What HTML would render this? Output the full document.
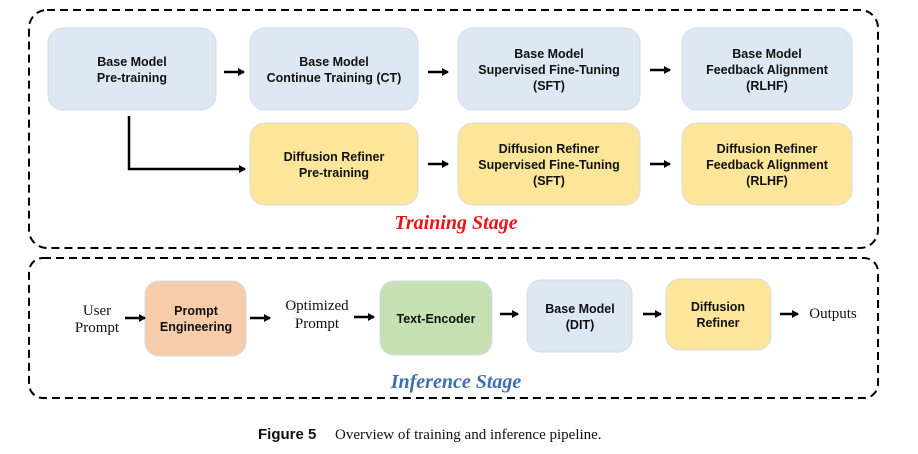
<!DOCTYPE html>
<html><head><meta charset="utf-8"><style>
html,body{margin:0;padding:0;background:#fff;}
svg{display:block;}
.s{font-family:"Liberation Sans",sans-serif;font-weight:bold;font-size:12.5px;fill:#111;text-anchor:middle;}
.r{font-family:"Liberation Serif",serif;font-size:15px;fill:#111;text-anchor:middle;}
</style></head><body>
<svg width="918" height="454" viewBox="0 0 918 454" xmlns="http://www.w3.org/2000/svg">
<defs><marker id="a" markerWidth="8" markerHeight="8" refX="6" refY="4" orient="auto" markerUnits="userSpaceOnUse"><path d="M0,0 L7,4 L0,8 z" fill="#000"/></marker></defs>
<rect x="29" y="10" width="849" height="238" rx="18" fill="none" stroke="#000" stroke-width="2" stroke-dasharray="8,5"/>
<rect x="29" y="258" width="849" height="140" rx="14" fill="none" stroke="#000" stroke-width="2" stroke-dasharray="8,5"/>
<g stroke="#d6dde6" stroke-width="1">
<rect x="48" y="28" width="168" height="82" rx="15" fill="#dde8f4"/>
<rect x="250" y="28" width="168" height="82" rx="15" fill="#dde8f4"/>
<rect x="458" y="28" width="182" height="82" rx="15" fill="#dde8f4"/>
<rect x="682" y="28" width="170" height="82" rx="15" fill="#dde8f4"/>
<rect x="250" y="123" width="168" height="82" rx="15" fill="#fde69a"/>
<rect x="458" y="123" width="182" height="82" rx="15" fill="#fde69a"/>
<rect x="682" y="123" width="170" height="82" rx="15" fill="#fde69a"/>
<rect x="145" y="281" width="101" height="75" rx="14" fill="#f7ccaa"/>
<rect x="380" y="281" width="112" height="74" rx="14" fill="#c6e0b4"/>
<rect x="527" y="280" width="105" height="72" rx="14" fill="#dde8f4"/>
<rect x="666" y="279" width="105" height="71" rx="14" fill="#fde69a"/>
</g>
<g stroke="#000" stroke-width="2.5" fill="none" marker-end="url(#a)">
<line x1="224" y1="72" x2="244" y2="72"/>
<line x1="428" y1="72" x2="448" y2="72"/>
<line x1="650" y1="70" x2="670" y2="70"/>
<line x1="428" y1="164" x2="448" y2="164"/>
<line x1="650" y1="164" x2="670" y2="164"/>
<polyline points="129,116 129,169 245,169"/>
<line x1="125" y1="318" x2="145" y2="318"/>
<line x1="250" y1="318" x2="270" y2="318"/>
<line x1="354" y1="317" x2="374" y2="317"/>
<line x1="500" y1="314" x2="518" y2="314"/>
<line x1="643" y1="314" x2="661" y2="314"/>
<line x1="780" y1="314" x2="798" y2="314"/>
</g>
<text class="s" x="132" y="66">Base Model</text><text class="s" x="132" y="82">Pre-training</text>
<text class="s" x="334" y="66">Base Model</text><text class="s" x="334" y="82">Continue Training (CT)</text>
<text class="s" x="549" y="58">Base Model</text><text class="s" x="549" y="74">Supervised Fine-Tuning</text><text class="s" x="549" y="90">(SFT)</text>
<text class="s" x="767" y="58">Base Model</text><text class="s" x="767" y="74">Feedback Alignment</text><text class="s" x="767" y="90">(RLHF)</text>
<text class="s" x="334" y="161">Diffusion Refiner</text><text class="s" x="334" y="177">Pre-training</text>
<text class="s" x="549" y="153">Diffusion Refiner</text><text class="s" x="549" y="169">Supervised Fine-Tuning</text><text class="s" x="549" y="185">(SFT)</text>
<text class="s" x="767" y="153">Diffusion Refiner</text><text class="s" x="767" y="169">Feedback Alignment</text><text class="s" x="767" y="185">(RLHF)</text>
<text x="456" y="229" text-anchor="middle" font-family="Liberation Serif,serif" font-weight="bold" font-style="italic" font-size="20" fill="#e8141b">Training Stage</text>
<text class="s" x="196" y="315">Prompt</text><text class="s" x="196" y="331">Engineering</text>
<text class="s" x="436" y="323">Text-Encoder</text>
<text class="s" x="580" y="313">Base Model</text><text class="s" x="580" y="329">(DIT)</text>
<text class="s" x="718" y="311">Diffusion</text><text class="s" x="718" y="327">Refiner</text>
<text class="r" x="97" y="315">User</text><text class="r" x="97" y="332">Prompt</text>
<text class="r" x="317" y="310">Optimized</text><text class="r" x="317" y="328">Prompt</text>
<text class="r" x="833" y="318">Outputs</text>
<text x="456" y="388" text-anchor="middle" font-family="Liberation Serif,serif" font-weight="bold" font-style="italic" font-size="20" fill="#3a70b0">Inference Stage</text>
<text x="258" y="439" font-family="Liberation Sans,sans-serif" font-weight="bold" font-size="15" fill="#111">Figure 5</text>
<text x="335" y="439" font-family="Liberation Serif,serif" font-size="15" fill="#111">Overview of training and inference pipeline.</text>
</svg>
</body></html>
